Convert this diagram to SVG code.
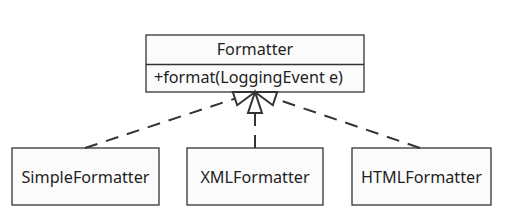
<svg xmlns="http://www.w3.org/2000/svg" width="516" height="222" viewBox="0 0 516 222">
<style>
.box{fill:#fbfbfb;stroke:#333;stroke-width:1.3}
.t{font-family:"Noto Sans","DejaVu Sans",sans-serif;font-size:16.2px;fill:#1e1e1e}
.c{stroke:#333;stroke-width:2;fill:none;stroke-dasharray:13,9}
.h{fill:#fff;stroke:#333;stroke-width:2;stroke-linejoin:miter}
</style>
<rect width="516" height="222" fill="#fff"/>
<g id="Formatter">
<rect class="box" x="146" y="35" width="218" height="57"/>
<line x1="146" y1="64.5" x2="364" y2="64.5" stroke="#333" stroke-width="1.3"/>
<text class="t" x="255" y="54.5" text-anchor="middle">Formatter</text>
<text class="t" x="154" y="83">+format(LoggingEvent e)</text>
</g>
<g id="SimpleFormatter">
<rect class="box" x="12" y="148" width="147" height="57"/>
<text class="t" x="85.5" y="182.5" text-anchor="middle">SimpleFormatter</text>
</g>
<g id="XMLFormatter">
<rect class="box" x="187" y="148" width="136" height="57"/>
<text class="t" x="255" y="182.5" text-anchor="middle">XMLFormatter</text>
</g>
<g id="HTMLFormatter">
<rect class="box" x="352" y="148" width="139" height="57"/>
<text class="t" x="421.5" y="182.5" text-anchor="middle">HTMLFormatter</text>
</g>
<g id="connectors">
<line class="c" x1="85" y1="148" x2="235" y2="98.6"/>
<line class="c" x1="255" y1="148" x2="255" y2="113"/>
<line class="c" x1="420" y1="148" x2="275" y2="98.6"/>
<polygon class="h" points="255,92 232.8,92 237.2,105.2"/>
<polygon class="h" points="255,92 248,113 262,113"/>
<polygon class="h" points="255,92 277.2,92 272.8,105.2"/>
</g>
</svg>
